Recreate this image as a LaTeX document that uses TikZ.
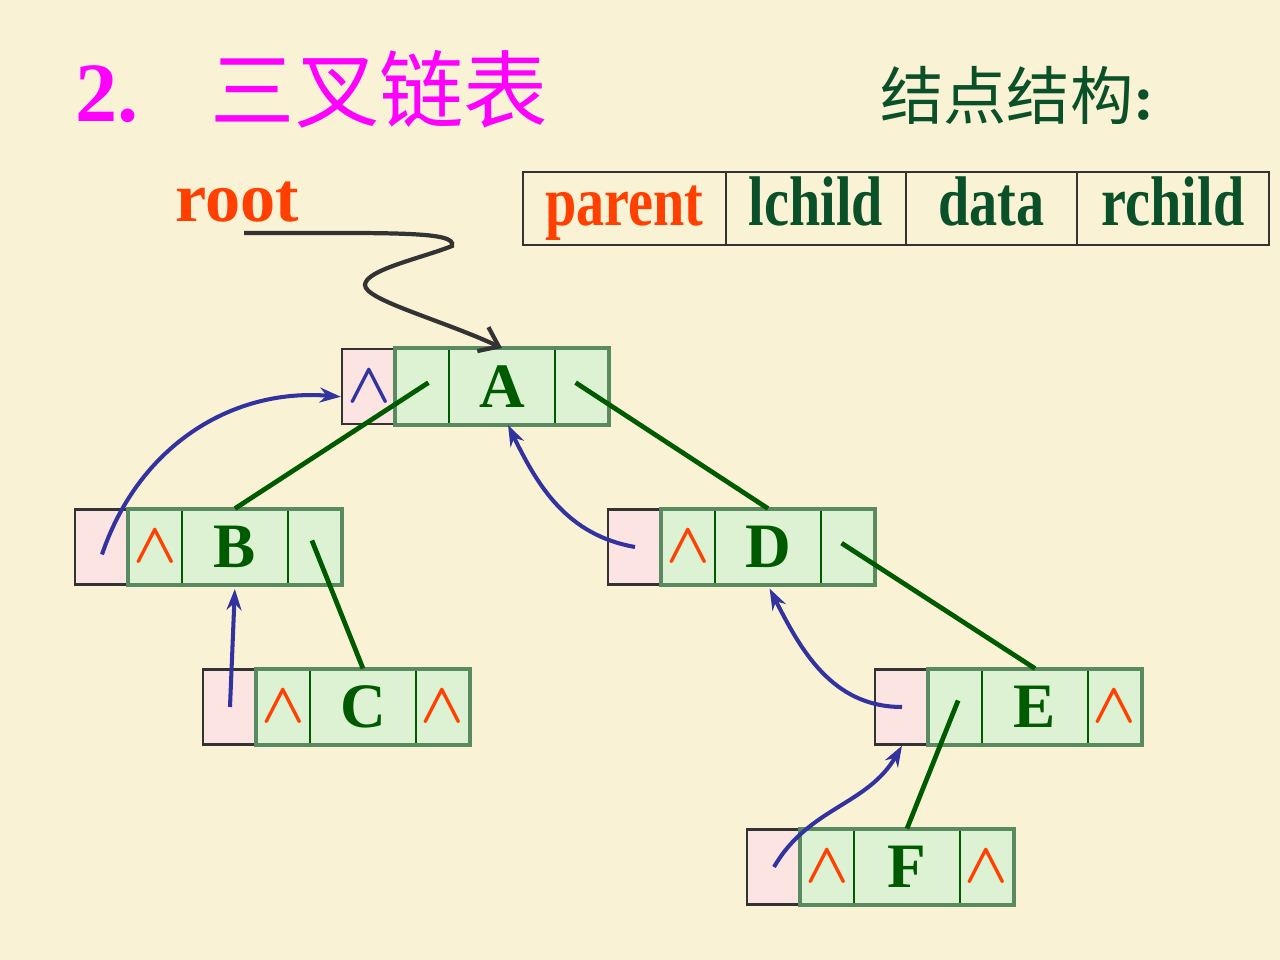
\documentclass[tikz,border=0pt]{standalone}
\usepackage{fontspec}
\setmainfont{Liberation Serif}
\newfontfamily\cjk{Noto Sans CJK SC}
\newfontfamily\narrowserif[FakeStretch=0.8]{Liberation Serif}
\usepackage{xcolor}
\usepackage{tikz}
\usetikzlibrary{positioning}
\usetikzlibrary{arrows.meta}
\definecolor{paper}{RGB}{250,242,213}
\definecolor{titlepink}{RGB}{255,0,255}
\definecolor{labelgreen}{RGB}{10,80,40}
\definecolor{nodegreen}{RGB}{0,90,0}
\definecolor{cellfill}{RGB}{220,242,210}
\definecolor{framegreen}{RGB}{90,138,95}
\definecolor{parfill}{RGB}{251,228,226}
\definecolor{nullred}{RGB}{255,64,0}
\definecolor{ptrblue}{RGB}{51,51,160}
\definecolor{inkgray}{RGB}{51,51,51}
\newcommand\nilmark{\scalebox{1.3}{\boldmath$\wedge$}}

\begin{document}
\begin{tikzpicture}[node distance=1cm, on grid, every node/.style={inner sep=0pt},
      parcell/.style={draw=inkgray, fill=parfill, line width=1.3pt, minimum width=1.08cm, minimum height=1.5cm},
      ptrcell/.style={draw=nodegreen, fill=cellfill, line width=1.1pt, minimum width=1.06cm, minimum height=1.5cm},
      datacell/.style={ptrcell, minimum width=2.12cm, text=nodegreen, font=\fontsize{36}{36}\selectfont\bfseries},
      nodeframe/.style={draw=framegreen, line width=2.3pt},
      nullmark/.style={text=nullred, font=\fontsize{24.88}{25}\selectfont},
      fieldcell/.style={draw=inkgray, line width=1.1pt, minimum height=1.46cm, text height=28pt, text depth=9.2pt,
        text=labelgreen, font=\narrowserif\fontsize{40}{40}\selectfont\bfseries},
      link/.style={color=nodegreen, line width=2.7pt, shorten <=-4pt},
      uplink/.style={color=ptrblue, line width=2.3pt, -{Stealth[length=12pt,width=8.5pt]}},
      rootlink/.style={draw=inkgray, line width=2.4pt, -{Straight Barb[length=10pt,width=15pt]}}]

      \fill[paper] (0,0) rectangle (25.6,-19.2);
      \useasboundingbox (0,0) rectangle (25.6,-19.2);

      % heading and node layout
      \node[anchor=base west, text=titlepink, font=\fontsize{48}{48}\selectfont\bfseries] (title) at (1.5,-2.44) {2.\hspace{41pt}{\cjk\mdseries 三叉链表}};
      \node[anchor=base west, text=labelgreen, font=\fontsize{36}{36}\selectfont] (layout) at (17.6,-2.40) {{\cjk 结点结构}\textbf{:}};
      \node[anchor=base west, text=nullred, font=\fontsize{40}{40}\selectfont\bfseries] (root) at (3.5,-4.44) {root};

      \node[fieldcell, minimum width=4.06cm, text=nullred] (fparent) at (12.49,-4.17) {parent};
      \node[fieldcell, minimum width=3.6cm] (flchild) [right=3.83cm of fparent] {lchild};
      \node[fieldcell, minimum width=3.42cm] (fdata) [right=3.51cm of flchild] {data};
      \node[fieldcell, minimum width=3.84cm] (frchild) [right=3.63cm of fdata] {rchild};

      % A
      \node[datacell] (dA) at (10.04,-7.73) {A};
      \node[ptrcell] (lA) [left=1.59cm of dA] {};
      \node[ptrcell] (rA) [right=1.59cm of dA] {};
      \node[parcell, nullmark, text=ptrblue] (pA) [left=1.07cm of lA] {\nilmark};
      \draw[nodeframe] (lA.north west) rectangle (rA.south east);

      % B
      \node[datacell] (dB) [below=3.21cm of dA, xshift=-5.34cm] {B};
      \node[ptrcell, nullmark] (lB) [left=1.59cm of dB] {\nilmark};
      \node[ptrcell] (rB) [right=1.59cm of dB] {};
      \node[parcell] (pB) [left=1.07cm of lB] {};
      \draw[nodeframe] (lB.north west) rectangle (rB.south east);

      % C
      \node[datacell] (dC) [below=3.2cm of dB, xshift=2.56cm] {C};
      \node[ptrcell, nullmark] (lC) [left=1.59cm of dC] {\nilmark};
      \node[ptrcell, nullmark] (rC) [right=1.59cm of dC] {\nilmark};
      \node[parcell] (pC) [left=1.07cm of lC] {};
      \draw[nodeframe] (lC.north west) rectangle (rC.south east);

      % D
      \node[datacell] (dD) [below=3.21cm of dA, xshift=5.32cm] {D};
      \node[ptrcell, nullmark] (lD) [left=1.59cm of dD] {\nilmark};
      \node[ptrcell] (rD) [right=1.59cm of dD] {};
      \node[parcell] (pD) [left=1.07cm of lD] {};
      \draw[nodeframe] (lD.north west) rectangle (rD.south east);

      % E
      \node[datacell] (dE) [below=3.2cm of dD, xshift=5.34cm] {E};
      \node[ptrcell] (lE) [left=1.59cm of dE] {};
      \node[ptrcell, nullmark] (rE) [right=1.59cm of dE] {\nilmark};
      \node[parcell] (pE) [left=1.07cm of lE] {};
      \draw[nodeframe] (lE.north west) rectangle (rE.south east);

      % F
      \node[datacell] (dF) [below=3.2cm of dE, xshift=-2.56cm] {F};
      \node[ptrcell, nullmark] (lF) [left=1.59cm of dF] {\nilmark};
      \node[ptrcell, nullmark] (rF) [right=1.59cm of dF] {\nilmark};
      \node[parcell] (pF) [left=1.07cm of lF] {};
      \draw[nodeframe] (lF.north west) rectangle (rF.south east);

      \path[link]
        (lA.center) edge (dB.north)
        (rA.center) edge (dD.north)
        (rB.center) edge (dC.north)
        (rD.center) edge (dE.north)
        (lE.center) edge (dF.north)
        ;

      \path[uplink]
        ([yshift=-0.15cm]pB.center) edge [bend left=38] (pA.200)
        (pC.center) edge [shorten >=2pt] (dB.south)
        (pD.center) edge [out=170, in=-64] ([xshift=0.12cm]dA.south)
        (pE.center) edge [out=180, in=-63, shorten >=2pt] (dD.south)
        (pF.center) edge [out=60, in=-120] (pE.south)
        ;

      \coordinate (rootturn) at (9.04,-4.92);
      \coordinate (rootloop) at (7.30,-5.70);
      \draw[rootlink] ([xshift=0.14cm, yshift=-0.2cm]root.south) .. controls +(3.0,0) and +(0.1,0.3) .. (rootturn)
        .. controls +(-0.6,-0.24) and +(0,0.3) .. (rootloop)
        .. controls +(0,-0.3) and +(-1.2,0.56) .. (dA.north);

    \end{tikzpicture}
\end{document}
